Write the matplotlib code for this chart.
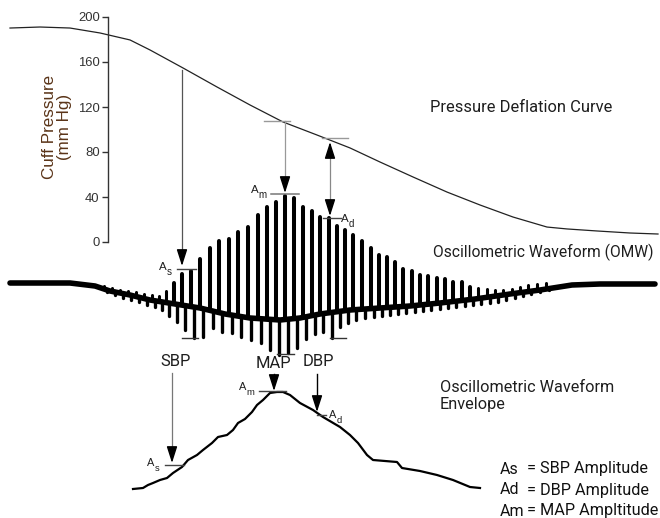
import matplotlib
matplotlib.use("Agg")
import matplotlib.pyplot as plt
import numpy as np

W, H = 660, 518

# pressure deflation curve: x (px along time) vs cuff pressure (mmHg)
PRESS_X = [10, 40, 70, 100, 130, 150, 183, 217, 250, 283, 317, 350, 380, 413, 447,
           480, 513, 547, 567, 597, 630, 658]
PRESS_MMHG = [190.2, 191.1, 190.2, 185.8, 179.6, 170.7, 154.7, 137.8, 121.8, 106.7, 95.1,
              83.6, 71.1, 57.8, 44.4, 32.9, 22.2, 13.3, 11.6, 9.8, 8.0, 7.1]
PRESS_TICKS = [0, 40, 80, 120, 160, 200]

# oscillometric waveform: baseline band and pulse spikes (px)
BASE_X = [10, 70, 95, 110, 130, 150, 175, 200, 225, 250, 280, 300, 320, 350, 380,
          410, 440, 475, 510, 540, 572, 600, 655]
BASE_Y = [283, 283, 286, 291, 295, 300, 304, 308, 314, 318, 320, 318, 314, 310, 308,
          306, 303, 299, 294, 290, 285, 284, 284]
SPIKE_X = [104, 112, 120, 128, 136, 144, 152, 159, 166, 174, 182, 191, 200, 210, 219,
           229, 238, 248, 258, 267, 276, 285, 294, 303, 312, 320, 329, 337, 345, 353,
           362, 371, 379, 387, 395, 403, 412, 420, 428, 437, 445, 453, 462, 470, 478,
           487, 495, 503, 512, 520, 528, 537, 546]
SPIKE_TOP = [286, 288, 290, 291, 292, 294, 295, 296, 291, 283, 274, 271, 259, 248, 241,
             239, 232, 227, 215, 207, 202, 196, 198, 207, 211, 217, 218, 226, 230, 235,
             241, 248, 255, 257, 262, 269, 271, 275, 276, 278, 279, 282, 282, 287, 288,
             289, 290, 290, 289, 287, 285, 284, 283]
SPIKE_LOW = [292, 295, 298, 300, 302, 305, 307, 310, 316, 322, 330, 338, 337, 328, 332,
             333, 337, 340, 343, 350, 355, 353, 348, 339, 334, 332, 338, 327, 323, 320,
             318, 317, 316, 315, 314, 313, 312, 311, 310, 309, 308, 307, 306, 305, 304,
             303, 302, 300, 298, 296, 294, 292, 290]

# oscillometric waveform envelope (px)
ENV_X = [133, 143, 148, 153, 160, 167, 173, 182, 188, 197, 203, 212, 218, 227, 233,
         238, 245, 252, 257, 263, 270, 277, 283, 290, 300, 313, 323, 340, 350, 358,
         367, 373, 397, 402, 420, 437, 453, 470, 480]
ENV_Y = [489, 488, 485, 483, 480, 478, 473, 467, 460, 455, 450, 443, 437, 435, 430,
         423, 419, 412, 405, 400, 393, 392, 392, 395, 403, 410, 417, 427, 435, 443,
         455, 460, 462, 468, 471, 475, 480, 487, 488]

LEGEND_KEYS = ["As", "Ad", "Am"]
LEGEND_DESC = ["= SBP Amplitude", "= DBP Amplitude", "= MAP Ampltitude"]

DIN = ["Roboto", "DejaVu Sans"]
ARIAL = ["Liberation Sans", "DejaVu Sans"]
PT = 0.72  # px -> pt at dpi 100
INK = "#1e1e1e"

fig = plt.figure(figsize=(W / 100, H / 100), dpi=100)

# cuff pressure axis (real data scale)
axp = fig.add_axes([0, (H - 242) / H, 1, 225 / H])
axp.set_xlim(0, W)
axp.set_ylim(0, 200)
for s in ("top", "right", "bottom"):
    axp.spines[s].set_visible(False)
axp.spines["left"].set_position(("data", 108))
axp.spines["left"].set_color("#333333")
axp.spines["left"].set_linewidth(1.0)
axp.set_xticks([])
axp.set_yticks(PRESS_TICKS)
axp.tick_params(axis="y", length=4, width=1.0, color="#333333", pad=2,
                labelsize=13 * PT, labelcolor="#333333")
for lab in axp.get_yticklabels():
    lab.set_family(ARIAL)
axp.patch.set_alpha(0)
axp.plot(PRESS_X, PRESS_MMHG, color="#222222", lw=0.9, clip_on=False,
         solid_joinstyle="round")
axp.text(57, 102, "Cuff Pressure\n(mm Hg)", rotation=90, ha="center", va="center",
         fontsize=17 * PT, color="#5a3418", family=ARIAL, linespacing=1.0)

# overlay in pixel coordinates
ax = fig.add_axes([0, 0, 1, 1])
ax.set_xlim(0, W)
ax.set_ylim(H, 0)
ax.axis("off")

# waveform
ax.plot(BASE_X, BASE_Y, color="black", lw=4.0, solid_capstyle="round", solid_joinstyle="round")
bx = np.interp(SPIKE_X, BASE_X, BASE_Y)
big = np.array(SPIKE_TOP) < bx - 12
ax.vlines(np.array(SPIKE_X)[big], np.array(SPIKE_TOP)[big], bx[big], color="black",
          lw=2.9, capstyle="round")
ax.vlines(np.array(SPIKE_X)[~big], np.array(SPIKE_TOP)[~big], bx[~big], color="black",
          lw=2.2, capstyle="round")
ax.vlines(np.array(SPIKE_X) + 2.5, bx, SPIKE_LOW, color="black", lw=2.4, capstyle="round")

# envelope
ax.plot(ENV_X, ENV_Y, color="black", lw=1.6, solid_joinstyle="round")


def head(x, tip, down=True, L=13):
    start = tip - L if down else tip + L
    ax.annotate("", xy=(x, tip), xytext=(x, start),
                arrowprops=dict(arrowstyle="-|>,head_length=1.0,head_width=0.32",
                                color="black", lw=1, mutation_scale=10,
                                shrinkA=0, shrinkB=0))


def hbar(x0, x1, y, color="#444444", lw=1.0):
    ax.plot([x0, x1], [y, y], color=color, lw=lw)


def alabel(x, y, sub, size=11.5):
    ax.text(x, y, "A", ha="left", va="baseline", fontsize=size * PT, family=ARIAL, color=INK)
    ax.text(x + size * 0.68, y + size * 0.42, sub, ha="left", va="baseline",
            fontsize=size * 0.85 * PT, family=ARIAL, color=INK)


# SBP arrow from curve
ax.plot([182, 182], [70, 255], color="#555555", lw=0.9)
head(182, 266)
hbar(177, 196, 269)
alabel(159, 270, "s")

# MAP arrow
hbar(264, 290, 121, color="#999999")
ax.plot([285, 285], [121, 185], color="#999999", lw=0.9)
head(285, 193)
hbar(271, 299, 194, color="#777777", lw=1.1)
alabel(251, 193, "m")

# DBP double arrow
hbar(322, 348, 138, color="#999999")
ax.plot([330, 330], [150, 208], color="#888888", lw=0.9)
head(330, 142, down=False)
head(330, 216)
hbar(323, 341, 218)
alabel(341, 222, "d")

# trough bars
hbar(182, 198, 338, color="#333333")
hbar(277, 294, 354, color="#333333")
hbar(330, 346, 338, color="#333333")

# bottom SBP / MAP / DBP labels and arrows
ax.text(176, 362, "SBP", ha="center", va="center", fontsize=16.5 * PT, family=DIN, color=INK)
ax.text(273, 364, "MAP", ha="center", va="center", fontsize=16.5 * PT, family=DIN, color=INK)
ax.text(318, 362, "DBP", ha="center", va="center", fontsize=16.5 * PT, family=DIN, color=INK)
ax.plot([172, 172], [373, 452], color="#777777", lw=0.9)
head(172, 463)
hbar(165, 184, 465)
alabel(147, 466, "s", size=11)
ax.plot([274, 274], [374, 382], color="black", lw=1.0)
head(274, 391, L=10)
hbar(259, 286, 391)
alabel(239, 390, "m", size=11)
ax.plot([317, 317], [374, 402], color="black", lw=1.0)
head(317, 412)
hbar(317, 326, 415)
alabel(329, 418, "d", size=11)

# descriptive texts
ax.text(430, 108, "Pressure Deflation Curve", ha="left", va="center",
        fontsize=16.5 * PT, family=DIN, color=INK)
ax.text(433, 252, "Oscillometric Waveform (OMW)", ha="left", va="center",
        fontsize=15.6 * PT, family=DIN, color=INK)
ax.text(440, 396, "Oscillometric Waveform\nEnvelope", ha="left", va="center",
        fontsize=16.3 * PT, family=DIN, color=INK, linespacing=1.2)

for i, (key, desc) in enumerate(zip(LEGEND_KEYS, LEGEND_DESC)):
    y = 469 + i * 21
    ax.text(500, y, key, ha="left", va="center", fontsize=16 * PT, family=DIN, color="#111111")
    ax.text(527, y, desc, ha="left", va="center", fontsize=16.3 * PT, family=DIN, color="#111111")

fig.savefig("out.png", dpi=100)
